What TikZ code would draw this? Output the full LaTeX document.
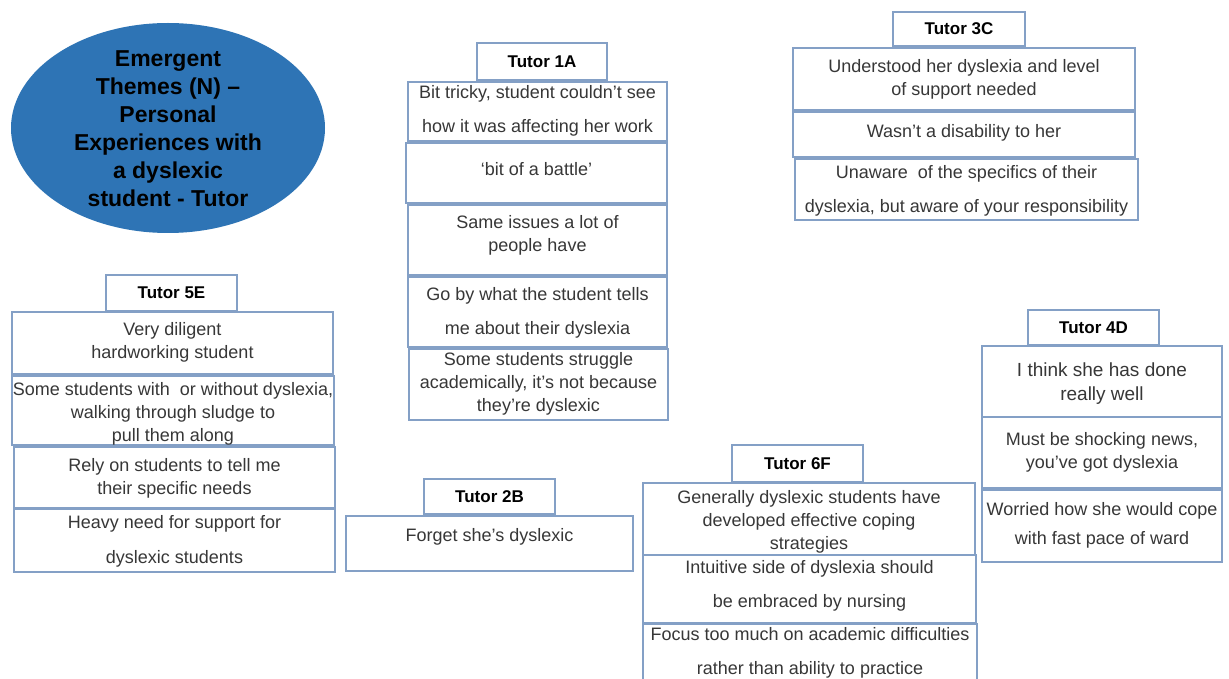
\documentclass[tikz,border=0pt]{standalone}
\usepackage{fontspec}
\setmainfont{Liberation Sans}
\usetikzlibrary{fit}
\definecolor{boxc}{RGB}{132,160,198}
\definecolor{ellc}{RGB}{46,116,181}
\definecolor{txtc}{RGB}{55,55,55}
\tikzset{
  box/.style={draw=boxc, line width=1.4pt, inner sep=0pt, fill=white},
  txt/.style={font=\fontsize{18}{23}\selectfont, align=center, text=txtc, inner sep=0pt},
  head/.style={font=\bfseries\fontsize{17}{20}\selectfont, text=black, inner sep=0pt},
  title/.style={font=\bfseries\fontsize{23}{28}\selectfont, align=center, text=black, inner sep=0pt}
}
\begin{document}
\begin{tikzpicture}[x=1pt,y=-1pt]
\useasboundingbox (0,0) rectangle (1229,679);
\fill[white] (0,0) rectangle (1229,679);
\clip (0,0) rectangle (1229,679);

% Title ellipse
\fill[ellc] (168,128) ellipse [x radius=157, y radius=105];
\node[title] (title) at (168,128.5) {\color{black}Emergent\\\color{black}Themes (N) --\\\color{black}Personal\\\color{black}Experiences with\\\color{black}a dyslexic\\\color{black}student - Tutor};

% Tutor 1A
\node[box, fit={(477,43) (607,80)}] (h1) {};
\node[head] (h1t) at (h1) {Tutor 1A};
\node[box, fit={(408,82) (667,141)}] (a1) {};
\node[txt] (a1t) at ([yshift=1pt]a1.center) {Bit tricky, student couldn't see\\[11pt]how it was affecting her work};
\node[box, fit={(406,143) (667,203)}] (a2) {};
\node[txt] (a2t) at ([yshift=4pt]a2.center) {`bit of a battle'};
\node[box, fit={(408,205) (667,275)}] (a3) {};
\node[txt] (a3t) at ([yshift=5pt]a3.center) {Same issues a lot of\\people have};
\node[box, fit={(408,277) (667,347)}] (a4) {};
\node[txt] (a4t) at ([yshift=-1pt]a4.center) {Go by what the student tells\\[11pt]me about their dyslexia};
\node[box, fit={(409,349) (668,420)}] (a5) {};
\node[txt] (a5t) at ([yshift=1pt]a5.center) {Some students struggle\\academically, it's not because\\they're dyslexic};

% Tutor 3C
\node[box, fit={(893,12) (1025,46)}] (h3) {};
\node[head] (h3t) at (h3) {Tutor 3C};
\node[box, fit={(793,48) (1135,110)}] (c1) {};
\node[txt] (c1t) at (c1) {Understood her dyslexia and level\\of support needed};
\node[box, fit={(793,112) (1135,157)}] (c2) {};
\node[txt] (c2t) at ([yshift=2pt]c2.center) {Wasn't a disability to her};
\node[box, fit={(795,159) (1138,220)}] (c3) {};
\node[txt] (c3t) at ([yshift=-1pt]c3.center) {Unaware\ \ of the specifics of their\\[11pt]dyslexia, but aware of your responsibility};

% Tutor 5E
\node[box, fit={(106,275) (237,311)}] (h5) {};
\node[head] (h5t) at (h5) {Tutor 5E};
\node[box, fit={(12,312) (333,374)}] (e1) {};
\node[txt] (e1t) at ([yshift=1pt]e1.center) {Very diligent\\hardworking student};
\node[box, fit={(12,376) (334,445)}] (e2) {};
\node[txt] (e2t) at ([yshift=-3pt]e2.center) {Some students with\ \ or without dyslexia,\\walking through sludge to\\pull them along};
\node[box, fit={(14,447) (335,508)}] (e3) {};
\node[txt] (e3t) at ([yshift=-1pt]e3.center) {Rely on students to tell me\\their specific needs};
\node[box, fit={(14,509) (335,572)}] (e4) {};
\node[txt] (e4t) at ([yshift=-1pt]e4.center) {Heavy need for support for\\[12pt]dyslexic students};

% Tutor 2B
\node[box, fit={(424,479) (555,514)}] (h2) {};
\node[head] (h2t) at (h2) {Tutor 2B};
\node[box, fit={(346,516) (633,571)}] (b1) {};
\node[txt] (b1t) at ([yshift=7pt]b1.center) {Forget she's dyslexic};

% Tutor 6F
\node[box, fit={(732,445) (863,482)}] (h6) {};
\node[head] (h6t) at (h6) {Tutor 6F};
\node[box, fit={(643,483) (975,555)}] (f1) {};
\node[txt] (f1t) at ([yshift=-3pt]f1.center) {Generally dyslexic students have\\developed effective coping\\strategies};
\node[box, fit={(643,555) (976,623)}] (f2) {};
\node[txt] (f2t) at ([yshift=3pt]f2.center) {Intuitive side of dyslexia should\\[11pt]be embraced by nursing};
\node[box, fit={(643,624) (977,700)}] (f3) {};
\node[txt] (f3t) at (810,653) {Focus too much on academic difficulties\\[11pt]rather than ability to practice};

% Tutor 4D
\node[box, fit={(1028,310) (1159,345)}] (h4) {};
\node[head] (h4t) at (h4) {Tutor 4D};
\node[box, fit={(982,346) (1222,417)}] (d1) {};
\node[txt, font=\fontsize{19}{24}\selectfont] (d1t) at ([yshift=-2pt]d1.center) {I think\ she has done\\really well};
\node[box, fit={(982,417) (1222,488)}] (d2) {};
\node[txt] (d2t) at (d2) {Must be shocking news,\\you've got dyslexia};
\node[box, fit={(982,490) (1222,562)}] (d3) {};
\node[txt] (d3t) at ([yshift=1pt]d3.center) {Worried how she would cope\\[6pt]with fast pace of ward};
\end{tikzpicture}
\end{document}
